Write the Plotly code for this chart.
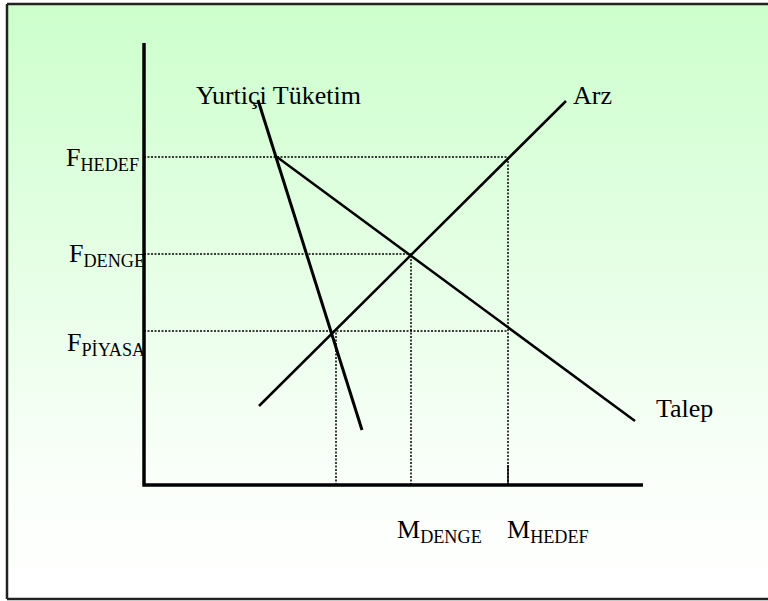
import base64
import plotly.graph_objects as go

# units: 1 unit = 10 px, origin at the axes corner
# price levels (F) and quantities (M)
price_names = ["F<sub>HEDEF</sub>", "F<sub>DENGE</sub>", "F<sub>PİYASA</sub>"]
price_values = [32.8, 23.1, 15.4]
qty_names = ["", "M<sub>DENGE</sub>", "M<sub>HEDEF</sub>"]
qty_values = [19.2, 26.7, 36.4]

# curve end points (x, y)
arz_x = [11.5, 42.2]
arz_y = [7.9, 38.4]
talep_x = [13.3, 49.1]
talep_y = [32.8, 6.4]
yurtici_x = [11.4, 21.8]
yurtici_y = [38.5, 5.5]

axis_x_end = 49.9
axis_y_end = 44.2

x_range = [-14.4, 62.4]
y_range = [-11.6, 48.5]

# frame of the slide (open on the right, runs to the picture edge)
frame_x = [-13.7, x_range[1]]
frame_y = [-11.4, 48.1]

FONT = '"Liberation Serif", "Times New Roman", Times, serif'

# green-to-white background as a small svg picture
grad_svg = (
    '<svg xmlns="http://www.w3.org/2000/svg" width="100" height="100" '
    'viewBox="0 0 100 100" preserveAspectRatio="none">'
    '<defs><linearGradient id="g" x1="0" y1="0" x2="0" y2="1">'
    '<stop offset="0" stop-color="#ccffcc"/>'
    '<stop offset="0.8" stop-color="#fafffa"/>'
    '<stop offset="1" stop-color="#ffffff"/>'
    '</linearGradient></defs>'
    '<rect width="100" height="100" fill="url(#g)"/></svg>'
)
grad_src = "data:image/svg+xml;base64," + base64.b64encode(grad_svg.encode()).decode()

fig = go.Figure()

dot = dict(color="black", width=1.5, dash="2px,1.5px")

# horizontal guides: F levels up to the matching quantity
guide_ends = [qty_values[2], qty_values[1], qty_values[2]]
for p, q in zip(price_values, guide_ends):
    fig.add_trace(go.Scatter(x=[0, q], y=[p, p], mode="lines", line=dot,
                             hoverinfo="skip", showlegend=False))

# vertical guides: quantities down to the axis
guide_tops = [price_values[2], price_values[1], price_values[0]]
for q, p in zip(qty_values, guide_tops):
    fig.add_trace(go.Scatter(x=[q, q], y=[0, p], mode="lines", line=dot,
                             hoverinfo="skip", showlegend=False))

# small tick at M_HEDEF
fig.add_trace(go.Scatter(x=[qty_values[2], qty_values[2]], y=[0, 2.0], mode="lines",
                         line=dict(color="black", width=1.5), hoverinfo="skip", showlegend=False))

# curves
for xs, ys, w in [(arz_x, arz_y, 2.5), (talep_x, talep_y, 2.5), (yurtici_x, yurtici_y, 3)]:
    fig.add_trace(go.Scatter(x=xs, y=ys, mode="lines", line=dict(color="black", width=w),
                             hoverinfo="skip", showlegend=False))

# axes
fig.add_trace(go.Scatter(x=[0, 0, axis_x_end], y=[axis_y_end, 0, 0], mode="lines",
                         line=dict(color="black", width=3.5), hoverinfo="skip", showlegend=False))

ann = []
# F labels left of the vertical axis
f_shift = [-2, -1, -13]
f_xshift = [-3, 3, 3]
for name, p, ys, xs in zip(price_names, price_values, f_shift, f_xshift):
    ann.append(dict(x=0, y=p, text=name, xanchor="right", yanchor="middle",
                    xshift=xs, yshift=ys, showarrow=False))
# M labels below the horizontal axis
m_xshift = [0, -16, -3]
for name, q, xs in zip(qty_names, qty_values, m_xshift):
    if name:
        ann.append(dict(x=q, y=0, text=name, xanchor="left", yanchor="middle",
                        xshift=xs, yshift=-46, showarrow=False))
# curve names
ann.append(dict(x=yurtici_x[0], y=yurtici_y[0], text="Yurtiçi Tüketim", xanchor="center",
                yanchor="middle", xshift=20, yshift=5, showarrow=False))
ann.append(dict(x=arz_x[1], y=arz_y[1], text="Arz", xanchor="left",
                yanchor="middle", xshift=5, yshift=6, showarrow=False))
ann.append(dict(x=talep_x[1], y=talep_y[1], text="Talep", xanchor="left",
                yanchor="middle", xshift=19, yshift=13, showarrow=False))

# frame border: left, top and bottom sides only
border = dict(color="#222222", width=2.5)
frame_lines = [
    dict(type="line", xref="x", yref="y", x0=frame_x[0], x1=frame_x[0],
         y0=frame_y[0], y1=frame_y[1], line=border),
    dict(type="line", xref="x", yref="y", x0=frame_x[0], x1=frame_x[1],
         y0=frame_y[1], y1=frame_y[1], line=border),
    dict(type="line", xref="x", yref="y", x0=frame_x[0], x1=frame_x[1],
         y0=frame_y[0], y1=frame_y[0], line=border),
]

fig.update_layout(
    width=768, height=601,
    margin=dict(l=0, r=0, t=0, b=0),
    paper_bgcolor="white", plot_bgcolor="white",
    font=dict(family=FONT, size=26, color="black"),
    annotations=ann,
    shapes=frame_lines,
    images=[dict(source=grad_src, xref="x", yref="y",
                 x=frame_x[0], y=frame_y[1],
                 sizex=frame_x[1] - frame_x[0], sizey=frame_y[1] - frame_y[0],
                 xanchor="left", yanchor="top", sizing="stretch", layer="below")],
    xaxis=dict(range=x_range, visible=False, fixedrange=True),
    yaxis=dict(range=y_range, visible=False, fixedrange=True),
)

# drop the default page margin so the figure sits at the window corner
fig.write_html("out.html", config={"displayModeBar": False},
               post_script="document.body.style.margin='0';document.body.style.overflow='hidden';")
